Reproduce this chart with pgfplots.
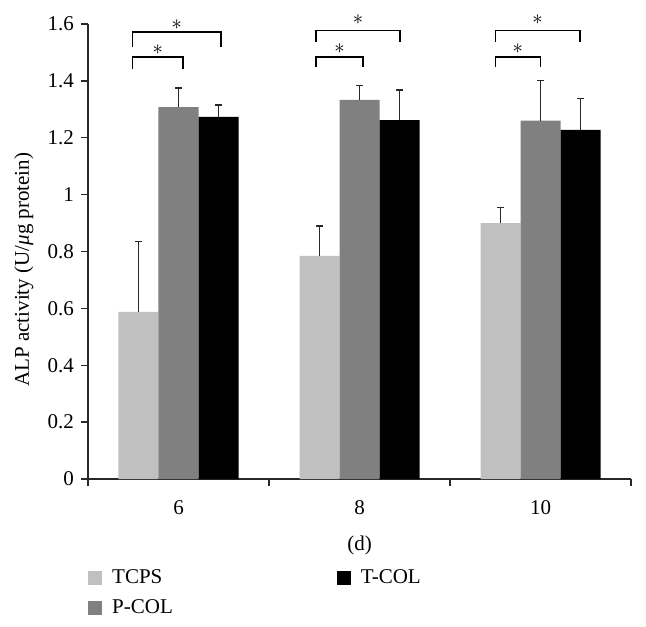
\documentclass[border=0pt]{standalone}
\usepackage{fontspec}
\setmainfont{Liberation Serif}
\usepackage{pgfplots}
\pgfplotsset{compat=1.18}
\definecolor{tcps}{RGB}{192,192,192}
\definecolor{pcol}{RGB}{128,128,128}
\definecolor{tcol}{RGB}{0,0,0}
\definecolor{axc}{RGB}{40,40,40}
\pgfplotsset{sqlegend/.style={legend image code/.code={\fill[##1] (0bp,-7bp) rectangle (14bp,7bp);}}}
\begin{document}
\fontsize{21bp}{25bp}\selectfont
\begin{tikzpicture}
\path[use as bounding box] (-88bp,-148bp) rectangle (558bp,479bp);
\begin{axis}[
  at={(0,0)}, anchor=south west,
  scale only axis, width=543bp, height=455bp,
  xmin=-0.5, xmax=2.5, ymin=0, ymax=1.6,
  axis x line*=bottom, axis y line*=left,
  axis line style={line width=1.3bp, axc},
  every tick/.style={line width=1.3bp, axc},
  tick align=outside, major tick length=7bp,
  xtick={-0.5,0.5,1.5,2.5}, xticklabels={},
  extra x ticks={0,1,2}, extra x tick labels={6,8,10},
  extra x tick style={major tick length=0pt, xticklabel style={yshift=-14bp}},
  ytick={0,0.2,0.4,0.6,0.8,1,1.2,1.4,1.6},
  /pgf/number format/assume math mode=true,
  tick label style={font=\fontsize{21bp}{25bp}\selectfont, black},
  yticklabel style={/pgf/number format/fixed},
  ylabel={ALP activity (U/\textit{μ}g protein)},
  ylabel style={at={(axis description cs:-0.118,0.46)}, anchor=center, font=\fontsize{21bp}{25bp}\selectfont},
  xlabel={(d)},
  xlabel style={at={(axis description cs:0.5,0)}, anchor=center, yshift=-66bp, font=\fontsize{21bp}{25bp}\selectfont},
  ybar=0pt, bar width=40bp,
  clip=false,
  error bars/y dir=plus, error bars/y explicit,
  error bars/error bar style={line width=1.2bp, axc},
  error bars/error mark options={rotate=90, mark size=3.5bp, line width=1.2bp, axc},
  legend columns=2, transpose legend,
  legend cell align=left,
  legend style={at={(axis description cs:0,0)}, anchor=north west, yshift=-88bp,
    draw=none, fill=none, inner sep=0pt, row sep=9bp,
    font=\fontsize{21bp}{25bp}\selectfont,
    /tikz/every odd column/.append style={column sep=8bp},
    /tikz/every even column/.append style={column sep=162bp}},
]
\addplot[fill=tcps, draw=none, sqlegend] coordinates {(0,0.588) +- (0,0.247) (1,0.785) +- (0,0.105) (2,0.900) +- (0,0.055)};
\addplot[fill=pcol, draw=none, sqlegend] coordinates {(0,1.308) +- (0,0.067) (1,1.333) +- (0,0.052) (2,1.260) +- (0,0.140)};
\addplot[fill=tcol, draw=none, sqlegend] coordinates {(0,1.273) +- (0,0.042) (1,1.262) +- (0,0.106) (2,1.228) +- (0,0.109)};
\legend{TCPS, P-COL, T-COL}
% significance brackets
\addplot[sharp plot, black, line width=1.3bp, forget plot, error bars/y dir=none] coordinates {(-0.255,1.520) (-0.255,1.572) (0.235,1.572) (0.235,1.520)};
\addplot[sharp plot, black, line width=1.3bp, forget plot, error bars/y dir=none] coordinates {(-0.255,1.441) (-0.255,1.484) (0.025,1.484) (0.025,1.441)};
\addplot[sharp plot, black, line width=1.3bp, forget plot, error bars/y dir=none] coordinates {(0.76,1.538) (0.76,1.576) (1.224,1.576) (1.224,1.538)};
\addplot[sharp plot, black, line width=1.3bp, forget plot, error bars/y dir=none] coordinates {(0.76,1.450) (0.76,1.484) (1.02,1.484) (1.02,1.450)};
\addplot[sharp plot, black, line width=1.3bp, forget plot, error bars/y dir=none] coordinates {(1.75,1.538) (1.75,1.576) (2.218,1.576) (2.218,1.538)};
\addplot[sharp plot, black, line width=1.3bp, forget plot, error bars/y dir=none] coordinates {(1.75,1.450) (1.75,1.484) (2.0,1.484) (2.0,1.450)};
\node[inner sep=0pt] at (axis cs:-0.01,1.597) {$\ast$};
\node[inner sep=0pt] at (axis cs:-0.115,1.510) {$\ast$};
\node[inner sep=0pt] at (axis cs:0.992,1.614) {$\ast$};
\node[inner sep=0pt] at (axis cs:0.89,1.512) {$\ast$};
\node[inner sep=0pt] at (axis cs:1.984,1.614) {$\ast$};
\node[inner sep=0pt] at (axis cs:1.875,1.512) {$\ast$};
\end{axis}
\end{tikzpicture}
\end{document}
